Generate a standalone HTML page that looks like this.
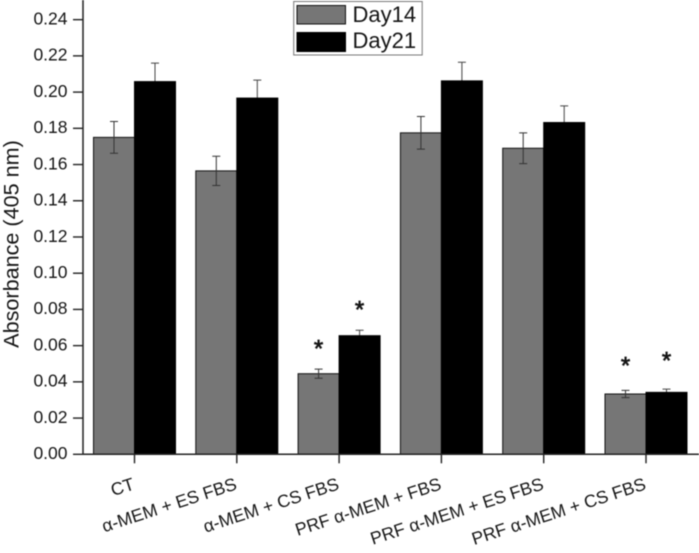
<!DOCTYPE html>
<html>
<head>
<meta charset="utf-8">
<style>
html,body{margin:0;padding:0;background:#fff;}
#wrap{width:699px;height:553px;overflow:hidden;}
svg{display:block;filter:blur(0.4px);}
text{font-family:"Liberation Sans",sans-serif;fill:#151515;}
</style>
</head>
<body>
<div id="wrap">
<svg id="chart" width="699" height="553" viewBox="0 0 699 553" xmlns="http://www.w3.org/2000/svg"></svg>
</div>
<script>
const categories = ["CT", "α-MEM + ES FBS", "α-MEM + CS FBS", "PRF α-MEM + FBS", "PRF α-MEM + ES FBS", "PRF α-MEM + CS FBS"];
const day14 = [0.175, 0.1565, 0.0445, 0.1775, 0.169, 0.0333];
const day21 = [0.2058, 0.1967, 0.0655, 0.2062, 0.1832, 0.0342];
const err14 = [0.0088, 0.0081, 0.0025, 0.009, 0.0085, 0.002];
const err21 = [0.0102, 0.0099, 0.003, 0.0103, 0.0092, 0.0018];
const star14 = [null, null, 0.0603, null, null, 0.0511];
const star21 = [null, null, 0.082, null, null, 0.0537];
const yTicks = [0, 0.02, 0.04, 0.06, 0.08, 0.10, 0.12, 0.14, 0.16, 0.18, 0.20, 0.22, 0.24];
const seriesNames = ["Day14", "Day21"];

const svg = document.getElementById('chart');
const NS = 'http://www.w3.org/2000/svg';
const GRAY = '#767676';
const BLACK = '#000';
const x0 = 134.5, xStep = 102.3, barW = 41;
const yBase = 454.3, yScale = 1811;
function xAxis(i) { return x0 + xStep * i; }
function yAxis(v) { return yBase - yScale * v; }
function mk(tag, attrs, text) {
  const el = document.createElementNS(NS, tag);
  for (const k in attrs) el.setAttribute(k, attrs[k]);
  if (text !== undefined) el.textContent = text;
  svg.appendChild(el);
  return el;
}
function errorPath(cx, v, e) {
  const top = yAxis(v + e), bot = yAxis(v - e);
  return 'M' + cx + ' ' + top + 'V' + bot + 'M' + (cx - 4) + ' ' + top + 'H' + (cx + 4) + 'M' + (cx - 4) + ' ' + bot + 'H' + (cx + 4);
}

categories.forEach(function (c, i) {
  const cx = xAxis(i);
  const b1 = mk('rect', {x: cx - barW, y: yAxis(day14[i]), width: barW, height: yBase - yAxis(day14[i]), fill: GRAY, stroke: '#111', 'stroke-width': 1});
  
  
  const e1 = mk('path', {d: errorPath(cx - barW / 2, day14[i], err14[i]), stroke: '#333', 'stroke-width': 1, fill: 'none'});
  
  
  const e2 = mk('path', {d: errorPath(cx + barW / 2, day21[i], err21[i]), stroke: '#444', 'stroke-width': 1, fill: 'none'});
  
  
  const b2 = mk('rect', {x: cx, y: yAxis(day21[i]), width: barW, height: yBase - yAxis(day21[i]), fill: BLACK, stroke: '#000', 'stroke-width': 1});
  
  
  if (star14[i] !== null) {
    const s1 = mk('text', {x: cx - barW / 2, y: yAxis(star14[i]) + 11.5, 'text-anchor': 'middle', 'font-size': 24, stroke: '#151515', 'stroke-width': 0.7}, '*');
    
    
  }
  if (star21[i] !== null) {
    const s2 = mk('text', {x: cx + barW / 2, y: yAxis(star21[i]) + 11.5, 'text-anchor': 'middle', 'font-size': 24, stroke: '#151515', 'stroke-width': 0.7}, '*');
    
    
  }
  const t = mk('path', {d: 'M' + cx + ' ' + yBase + 'V' + (yBase + 9), stroke: '#222', 'stroke-width': 1.4, fill: 'none'});
  
  
  const ly = 489;
  const lab = mk('text', {x: cx + 1, y: ly, 'text-anchor': 'end', 'font-size': 17.7, transform: 'rotate(-18 ' + (cx + 1) + ' ' + ly + ')'}, c);
  
  
});

const axes = mk('path', {d: 'M83 0V' + yBase + 'H699', stroke: '#222', 'stroke-width': 1.5, fill: 'none'});



yTicks.forEach(function (v) {
  const y = yAxis(v);
  const t = mk('path', {d: 'M73 ' + y + 'H83', stroke: '#222', 'stroke-width': 1.4, fill: 'none'});
  
  
  const l = mk('text', {x: 67.5, y: y + 4.8, 'text-anchor': 'end', 'font-size': 17.5}, v.toFixed(2));
  
  
});

const yTitle = mk('text', {x: 18.5, y: 244, 'text-anchor': 'middle', 'font-size': 21.6, transform: 'rotate(-90 18.5 244)'}, 'Absorbance (405 nm)');



const legBox = mk('rect', {x: 293.7, y: 1.5, width: 128.5, height: 53.5, fill: '#fff', stroke: '#777', 'stroke-width': 1});


const sw1 = mk('rect', {x: 297, y: 5.5, width: 48.5, height: 18.5, fill: GRAY, stroke: '#111', 'stroke-width': 1});


const sw2 = mk('rect', {x: 297, y: 32.5, width: 48.5, height: 19, fill: BLACK, stroke: '#000', 'stroke-width': 1});


const lt1 = mk('text', {x: 352.5, y: 22, 'font-size': 22}, seriesNames[0]);


const lt2 = mk('text', {x: 352.5, y: 48, 'font-size': 22}, seriesNames[1]);


</script>
</body>
</html>
